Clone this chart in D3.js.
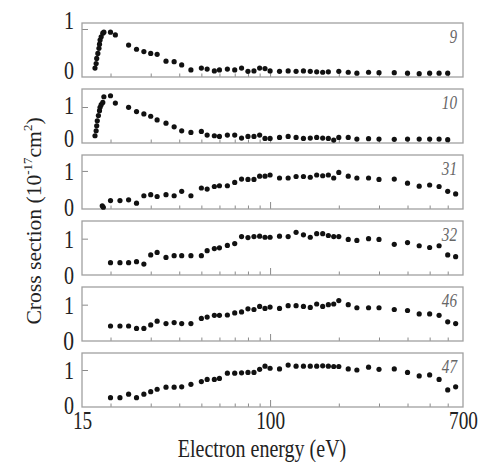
<!DOCTYPE html>
<html>
<head>
<meta charset="utf-8">
<script src="https://cdn.jsdelivr.net/npm/d3@7"></script>
<style>
  body { margin: 0; background: #fff; }
  text { font-family: "Liberation Serif", "Times New Roman", serif; }
</style>
</head>
<body>
<div class="viz"></div>
<script>
// energies (eV) and cross sections (10^-17 cm^2)
const e9 = [17.1, 17.3, 17.4, 17.6, 17.8, 17.9, 18.0, 18.2, 18.5, 18.7,
    20, 21, 24, 26, 28, 30, 32, 35, 38, 41, 45, 50, 53, 57, 60, 65, 70, 75, 80, 85, 90, 95,
    100, 110, 120, 130, 140, 150, 160, 170, 180, 200, 220, 240, 270, 300, 350, 400, 450, 500, 550, 600];
const cs9 = [0.15, 0.25, 0.36, 0.47, 0.58, 0.67, 0.76, 0.83, 0.91, 0.93,
    0.93, 0.87, 0.65, 0.56, 0.51, 0.47, 0.45, 0.30, 0.29, 0.22, 0.11, 0.15, 0.13, 0.09, 0.11, 0.13, 0.11, 0.15, 0.08, 0.09, 0.15, 0.14,
    0.09, 0.08, 0.09, 0.08, 0.09, 0.08, 0.07, 0.06, 0.07, 0.08, 0.06, 0.04, 0.06, 0.05, 0.05, 0.04, 0.03, 0.04, 0.04, 0.04];

const e10 = [17.1, 17.3, 17.4, 17.5, 17.7, 17.9, 18.0, 18.2, 18.5, 18.7,
    20, 21, 24, 26, 28, 30, 32, 35, 38, 41, 45, 50, 53, 57, 60, 65, 70, 75, 80, 85, 90, 95,
    100, 110, 120, 130, 140, 150, 160, 170, 180, 190, 200, 220, 240, 270, 300, 350, 400, 450, 500, 550, 600];
const cs10 = [0.13, 0.28, 0.43, 0.58, 0.74, 0.89, 0.99, 1.07, 1.14, 1.31,
    1.34, 1.12, 0.99, 0.86, 0.79, 0.72, 0.61, 0.51, 0.40, 0.28, 0.23, 0.26, 0.15, 0.13, 0.11, 0.15, 0.15, 0.06, 0.11, 0.11, 0.15, 0.05,
    0.05, 0.08, 0.11, 0.08, 0.05, 0.06, 0.08, 0.06, 0.05, 0.0, 0.08, 0.08, 0.03, 0.04, 0.03, 0.02, 0.03, 0.03, 0.03, 0.03, 0.01];

const e31 = [18.4, 18.6, 20, 22, 24, 26, 28, 30, 32, 35, 38, 41, 45, 50, 53, 57, 60, 65, 70, 75, 80, 85, 90, 95,
    100, 110, 120, 130, 140, 150, 160, 170, 180, 190, 200, 220, 240, 270, 300, 350, 400, 450, 500, 550, 600, 650];
const cs31 = [0.06, 0.02, 0.20, 0.20, 0.22, 0.13, 0.33, 0.36, 0.31, 0.36, 0.33, 0.45, 0.33, 0.54, 0.51, 0.58, 0.60, 0.60, 0.69, 0.78, 0.77, 0.77, 0.86, 0.86,
    0.89, 0.81, 0.81, 0.85, 0.85, 0.83, 0.89, 0.87, 0.89, 0.81, 0.96, 0.86, 0.81, 0.81, 0.77, 0.78, 0.67, 0.59, 0.62, 0.58, 0.45, 0.38];

const eGrid = [20, 22, 24, 26, 28, 30, 32, 35, 38, 41, 45, 50, 53, 57, 60, 65, 70, 75, 80, 85, 90, 95,
    100, 110, 120, 130, 140, 150, 160, 170, 180, 190, 200, 220, 240, 270, 300, 350, 400, 450, 500, 550, 600, 650];
const cs32 = [0.32, 0.32, 0.32, 0.35, 0.28, 0.54, 0.61, 0.47, 0.52, 0.52, 0.52, 0.52, 0.66, 0.72, 0.74, 0.81, 0.86, 1.06, 1.03, 1.06, 1.07, 1.04,
    1.04, 1.07, 1.06, 1.18, 1.11, 1.04, 1.14, 1.14, 1.09, 1.06, 1.06, 0.98, 0.95, 1.00, 0.98, 0.84, 0.89, 0.80, 0.75, 0.80, 0.54, 0.49];
const cs46 = [0.38, 0.38, 0.38, 0.31, 0.31, 0.41, 0.52, 0.45, 0.48, 0.45, 0.45, 0.60, 0.64, 0.69, 0.69, 0.70, 0.76, 0.79, 0.88, 0.86, 0.95, 0.89,
    0.93, 0.89, 0.97, 0.97, 0.95, 0.92, 1.02, 0.95, 1.00, 1.02, 1.12, 1.00, 0.91, 0.91, 0.91, 0.86, 0.83, 0.73, 0.73, 0.69, 0.50, 0.45];
const cs47 = [0.21, 0.21, 0.31, 0.21, 0.31, 0.38, 0.45, 0.51, 0.51, 0.52, 0.59, 0.67, 0.73, 0.73, 0.76, 0.91, 0.91, 0.92, 0.93, 0.93, 1.02, 1.11,
    1.05, 1.03, 1.14, 1.11, 1.11, 1.11, 1.11, 1.12, 1.11, 1.10, 1.10, 1.03, 1.00, 1.08, 1.02, 1.03, 0.93, 0.83, 0.86, 0.73, 0.43, 0.52];

const panelLabels = ['9', '10', '31', '32', '46', '47'];
const xLabels = [15, 100, 700];
const minorTicks = [20, 30, 40, 50, 60, 70, 80, 90, 200, 300, 400, 500, 600];

const panels = [
    { e: e9, cs: cs9, yDomain: [-0.043, 1.13], oneShift: -9, zeroShift: -5 },
    { e: e10, cs: cs10, yDomain: [-0.09, 1.545], oneShift: -2, zeroShift: -2 },
    { e: e31, cs: cs31, yDomain: [-0.027, 1.43], oneShift: 0, zeroShift: -1 },
    { e: eGrid, cs: cs32, yDomain: [-0.028, 1.5], oneShift: 0, zeroShift: 1 },
    { e: eGrid, cs: cs46, yDomain: [-0.057, 1.514], oneShift: 0, zeroShift: 1, bigZero: true },
    { e: eGrid, cs: cs47, yDomain: [-0.057, 1.486], oneShift: 0, zeroShift: 0 }
];

const W = 478, H = 462;
const left = 82, right = 463, top0 = 23, ph = 54, step = 66;
const SX = 0.77; // glyphs in the reference are tall and narrow

const svg = d3.select('.viz').append('svg')
    .attr('width', W)
    .attr('height', H);

const x = d3.scaleLog().domain([15, 700]).range([left, right]);

panels.forEach((p, i) => {
    const top = top0 + i * step;
    const bot = top + ph;
    const y = d3.scaleLinear().domain(p.yDomain).range([bot, top]);
    const g = svg.append('g');

    // inward ticks along the bottom
    const minor = g.append('g')
        .attr('transform', `translate(0,${bot})`)
        .call(d3.axisBottom(x).tickValues(minorTicks).tickSize(-3.5).tickFormat(''));
    minor.select('.domain').remove();
    minor.selectAll('line').attr('stroke', '#8a8a8a');
    const major = g.append('g')
        .attr('transform', `translate(0,${bot})`)
        .call(d3.axisBottom(x).tickValues([100]).tickSize(-7).tickFormat(''));
    major.select('.domain').remove();
    major.selectAll('line').attr('stroke', '#8a8a8a');

    // y axis 0 / 1
    const ya = g.append('g')
        .attr('transform', `translate(${left},0)`)
        .call(d3.axisLeft(y).tickValues([0, 1]).tickSize(-6).tickPadding(8 / SX).tickFormat(d3.format('d')));
    ya.select('.domain').remove();
    ya.selectAll('.tick line').attr('stroke', '#8a8a8a');
    ya.selectAll('.tick').filter(d => d === 0).select('line').remove();
    ya.selectAll('.tick text')
        .attr('font-size', d => (d === 0 && p.bigZero) ? 28 : 26)
        .attr('fill', '#222')
        .attr('y', d => d === 1 ? p.oneShift : p.zeroShift)
        .attr('transform', `scale(${SX},1)`);

    // frame
    g.append('rect')
        .attr('x', left)
        .attr('y', top)
        .attr('width', right - left)
        .attr('height', ph)
        .attr('fill', 'none')
        .attr('stroke', '#a0a0a0')
        .attr('stroke-width', 1.3);

    // data points
    g.selectAll('circle')
        .data(p.e.map((e, j) => ({ e: e, v: p.cs[j] })))
        .join('circle')
        .attr('cx', d => x(d.e))
        .attr('cy', d => y(d.v))
        .attr('r', 2.6)
        .attr('fill', '#111');

    g.append('text')
        .attr('transform', `translate(457,${top + 20}) scale(0.8,1)`)
        .attr('text-anchor', 'end')
        .attr('font-size', 19)
        .attr('font-style', 'italic')
        .attr('fill', '#666')
        .text(panelLabels[i]);

    if (i === panels.length - 1) {
        const xa = g.append('g')
            .attr('transform', `translate(0,${bot})`)
            .call(d3.axisBottom(x).tickValues(xLabels).tickSize(0).tickPadding(4.5).tickFormat(d3.format('d')));
        xa.select('.domain').remove();
        xa.selectAll('text')
            .attr('font-size', 25)
            .attr('fill', '#222')
            .attr('transform', `scale(${SX},1)`);
    }
});

// axis titles
svg.append('text')
    .attr('transform', `translate(262,457) scale(${SX},1)`)
    .attr('text-anchor', 'middle')
    .attr('font-size', 26)
    .attr('fill', '#222')
    .text('Electron energy (eV)');

const yt = svg.append('text')
    .attr('transform', 'translate(41,221) rotate(-90) scale(1.08,1)')
    .attr('text-anchor', 'middle')
    .attr('font-size', 20)
    .attr('fill', '#222');
yt.append('tspan').text('Cross section (10');
yt.append('tspan').attr('dy', -9).attr('font-size', 12).text('-17');
yt.append('tspan').attr('dy', 9).text('cm');
yt.append('tspan').attr('dy', -9).attr('font-size', 12).text('2');
yt.append('tspan').attr('dy', 9).text(')');
</script>
</body>
</html>
